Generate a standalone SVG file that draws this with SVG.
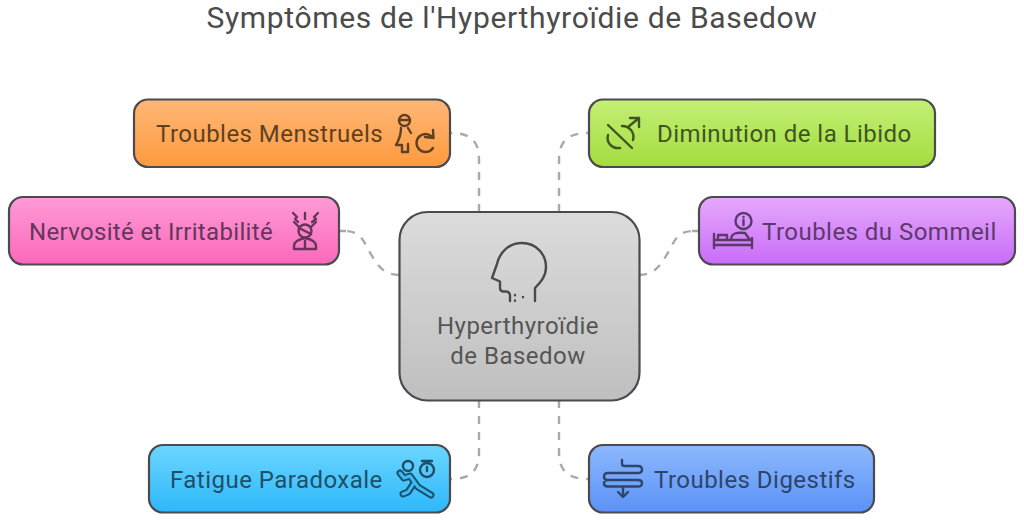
<svg xmlns="http://www.w3.org/2000/svg" width="1024" height="526" viewBox="0 0 1024 526">
<defs>
<linearGradient id="gOrange" x1="0" y1="0" x2="0" y2="1"><stop offset="0" stop-color="#ffb777"/><stop offset="1" stop-color="#ff9a3e"/></linearGradient>
<linearGradient id="gGreen" x1="0" y1="0" x2="0" y2="1"><stop offset="0" stop-color="#c4f075"/><stop offset="1" stop-color="#a3dc3f"/></linearGradient>
<linearGradient id="gPink" x1="0" y1="0" x2="0" y2="1"><stop offset="0" stop-color="#ff9bd6"/><stop offset="1" stop-color="#fb68bb"/></linearGradient>
<linearGradient id="gPurple" x1="0" y1="0" x2="0" y2="1"><stop offset="0" stop-color="#e6a9fc"/><stop offset="1" stop-color="#c96cf9"/></linearGradient>
<linearGradient id="gCyan" x1="0" y1="0" x2="0" y2="1"><stop offset="0" stop-color="#6cd6ff"/><stop offset="1" stop-color="#2db8fb"/></linearGradient>
<linearGradient id="gBlue" x1="0" y1="0" x2="0" y2="1"><stop offset="0" stop-color="#8db8fd"/><stop offset="1" stop-color="#5b92f8"/></linearGradient>
<linearGradient id="gGrey" x1="0" y1="0" x2="0" y2="1"><stop offset="0" stop-color="#dcdcdc"/><stop offset="1" stop-color="#bfbfbf"/></linearGradient>
</defs>
<style>
text{font-family:Roboto,"Liberation Sans",sans-serif;font-size:24px;letter-spacing:.47px}
.box{stroke:#4a4a4f;stroke-width:2.2}
.c{fill:none;stroke:#a9a9a9;stroke-width:2.4;stroke-dasharray:8 8}
.i{fill:none;stroke-width:2.4;stroke-linecap:round;stroke-linejoin:round}
</style>
<text x="512" y="28" text-anchor="middle" fill="#4b4b4b" style="font-size:30px;letter-spacing:.66px">Symptômes de l'Hyperthyroïdie de Basedow</text>
<g id="connectors">
<path class="c" d="M479 212V160C479 140 470 133 450 133"/>
<path class="c" d="M559 212V160C559 140 569 133 589 133"/>
<path class="c" d="M399 275C386 275 379 268 372 256C364 243 362 231 345 231M339 231H346"/>
<path class="c" d="M639 275C652 275 659 268 666 256C674 243 676 231 693 231M699 231H692"/>
<path class="c" d="M479 400V452C479 472 470 479 450 479"/>
<path class="c" d="M559 400V452C559 472 569 479 589 479"/>
</g>
<g id="center">
<rect class="box" x="399.500" y="212" width="240" height="188.500" rx="28" fill="url(#gGrey)"/>
<path class="i" stroke="#4a4a4a" d="M510 301V295.500Q510 292 506 291.500H503Q500 291 500 288V281.500L492 278L497 264C500 251 510 243 522 243C536 243 546 254 546 267C546 276 541 282 535 288V301"/>
<path class="i" stroke="#4a4a4a" d="M515 295V295.300M515 300.500V300.800M523 297V297.300"/>
<text x="518" y="334" text-anchor="middle" fill="#555">Hyperthyroïdie</text>
<text x="518" y="364" text-anchor="middle" fill="#555">de Basedow</text>
</g>
<g id="menstruels">
<rect class="box" x="134" y="99.500" width="316" height="67.500" rx="14" fill="url(#gOrange)"/>
<text x="156" y="142" fill="#5e4122">Troubles Menstruels</text>
<g class="i" stroke="#5e4122"><circle cx="404.500" cy="120.500" r="5.500"/><path d="M399 120H410M401 128C401 135 399 140 396 145H402V152H408V144M408 128L411 133"/><path d="M433 138A9 9 0 1 0 433 148M425 137L433.500 138L433 130"/></g>
</g>
<g id="libido">
<rect class="box" x="589" y="99.500" width="346" height="67.500" rx="14" fill="url(#gGreen)"/>
<text x="657" y="142" fill="#3f5522">Diminution de la Libido</text>
<g class="i" stroke="#3f5522"><path d="M608 125L632 148M620 148C612 149 606 143 608 135M622 126C630 126 635 133 633 140M628 127L639 118M630 118H639V127"/></g>
</g>
<g id="nervosite">
<rect class="box" x="9" y="197" width="330" height="67.500" rx="14" fill="url(#gPink)"/>
<text x="29" y="240" fill="#63365a" style="letter-spacing:.33px">Nervosité et Irritabilité</text>
<g class="i" stroke="#63365a"><circle cx="305" cy="231" r="6.500"/><path d="M299 228L311 234M294 249V246C294 241 300 239 305 238C310 239 316 241 316 246V249ZM305 241V248M294 222L299 227M316 222L311 227M293 213L297 217L295 219L298 222M305 213V219M318 213L314 217L316 219L312 222"/></g>
</g>
<g id="sommeil">
<rect class="box" x="699" y="197" width="316" height="67.500" rx="14" fill="url(#gPurple)"/>
<text x="762" y="240" fill="#5a3a6b">Troubles du Sommeil</text>
<g class="i" stroke="#5a3a6b"><circle cx="743.500" cy="221" r="8"/><path d="M743.500 220V225M743.500 217V217.300M714 234V248M752 238V248M714 245H752M714 240H752M718 240V235H727V240M731 240C731 233 737 232 745 233L750 240"/></g>
</g>
<g id="fatigue">
<rect class="box" x="149" y="445" width="301" height="67.500" rx="14" fill="url(#gCyan)"/>
<text x="170" y="488" fill="#1f4f66">Fatigue Paradoxale</text>
<g class="i" stroke="#1f4f66"><circle cx="427" cy="470" r="7"/><path d="M422 461H432M427 461V463M427 467V471"/><path stroke-width="7" d="M400 473L404 478L410 476L418 487L431 495M414 483L408 492L403 494"/><path stroke="#38bcfc" stroke-width="3" d="M400 473L404 478L410 476L418 487L431 495M414 483L408 492L403 494"/><circle cx="408" cy="466" r="5"/></g>
</g>
<g id="digestifs">
<rect class="box" x="589" y="445" width="285" height="67.500" rx="14" fill="url(#gBlue)"/>
<text x="654" y="488" fill="#2d4568">Troubles Digestifs</text>
<g class="i" stroke="#2d4568"><path d="M622 460V464Q622 466 625 466H638Q642 466 642 469.500Q642 473 638 473H608Q604 473 604 476.500Q604 480 608 480H638Q642 480 642 483Q642 486.500 638 486.500H608Q604 486.500 604 483.500Q604 480 608 480M623 487V496M618 492L623 497L628 492"/></g>
</g>
</svg>
